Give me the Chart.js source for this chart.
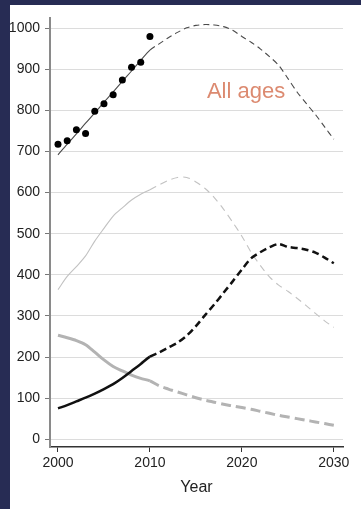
<!DOCTYPE html>
<html>
<head>
<meta charset="utf-8">
<script src="https://cdn.jsdelivr.net/npm/chart.js@4.4.1/dist/chart.umd.min.js"></script>
<style>
    html, body { margin: 0; padding: 0; background: #272c54; }
    body { width: 361px; height: 509px; position: relative; overflow: hidden; }
    #panel { position: absolute; left: 10px; top: 5px; width: 351px; height: 504px; background: #fff; }
</style>
</head>
<body>
<div id="panel"><canvas id="chart-mortality" width="351" height="504"></canvas></div>
<script>
const years = [];
for (let y = 2000; y <= 2030; y++) years.push(y);

const observedYears = [2000, 2001, 2002, 2003, 2004, 2005, 2006, 2007, 2008, 2009, 2010];
const observedAll = [718, 726, 753, 744, 798, 816, 838, 874, 905, 917, 980];

// fitted all-ages line, solid to 2010 then projected
const fitAll = [692, 718, 743, 769, 794, 820, 845, 871, 896, 922, 947,
    962, 977, 990, 1001, 1007, 1009, 1008, 1004, 995, 980,
    966, 950, 931, 910, 878, 845, 817, 790, 760, 730];

const lightThin = [364, 396, 420, 446, 482, 513, 543, 563, 582, 596, 607,
    619, 630, 637, 637, 626, 610, 588, 560, 528, 494,
    455, 423, 395, 375, 360, 343, 325, 306, 288, 272];

const blackThick = [75, 83, 92, 101, 111, 122, 134, 149, 166, 183, 201,
    211, 223, 235, 252, 275, 302, 328, 356, 384, 413,
    440, 455, 467, 475, 468, 465, 461, 454, 442, 428];

const grayThick = [253, 247, 240, 230, 212, 193, 177, 166, 156, 148, 142,
    130, 122, 115, 108, 101, 95, 90, 85, 81, 77,
    73, 68, 63, 58, 54, 50, 46, 42, 38, 34];

const yTicks = [0, 100, 200, 300, 400, 500, 600, 700, 800, 900, 1000];
const xTicks = [2000, 2010, 2020, 2030];

const label = { text: 'All ages', x: 2016.2, y: 846 };

function toPoints(xs, ys) {
    return ys.map((v, i) => ({ x: xs[i], y: v }));
}

function createLine(data, color, width, dash) {
    return {
        data: toPoints(years, data),
        borderColor: color,
        borderWidth: width,
        pointRadius: 0,
        tension: 0.3,
        fill: false,
        segment: {
            borderDash: ctx => ctx.p0.parsed.x >= 2010 ? dash : undefined,
        },
    };
}

const labelPlugin = {
    id: 'allAges',
    afterDatasetsDraw(chart) {
        const c = chart.ctx;
        c.save();
        c.font = '22px "Liberation Sans", Arial, sans-serif';
        c.fillStyle = '#dc8a70';
        c.textAlign = 'left';
        c.textBaseline = 'middle';
        c.fillText(label.text, chart.scales.x.getPixelForValue(label.x), chart.scales.y.getPixelForValue(label.y));
        c.restore();
    }
};

const font = { family: '"Liberation Sans", Arial, sans-serif', size: 14 };

new Chart(document.getElementById('chart-mortality'), {
    type: 'line',
    data: {
        datasets: [
            {
                data: toPoints(observedYears, observedAll),
                showLine: false,
                pointRadius: 3.5,
                pointBackgroundColor: '#000',
                pointBorderWidth: 0,
            },
            createLine(fitAll, '#4a4a4a', 1.1, [6, 4]),
            createLine(blackThick, '#111', 2.5, [7, 4]),
            createLine(grayThick, '#b3b3b3', 3, [10, 5]),
            createLine(lightThin, '#c2c2c2', 1.1, [7, 5]),
        ]
    },
    options: {
        responsive: false,
        animation: false,
        layout: { padding: { left: 0, right: 18, top: 8, bottom: 0 } },
        plugins: { legend: { display: false }, tooltip: { enabled: false } },
        scales: {
            x: {
                type: 'linear',
                min: 1999.13,
                max: 2031,
                afterBuildTicks: s => { s.ticks = xTicks.map(v => ({ value: v })); },
                afterFit: s => { s.height = 62; },
                grid: { drawOnChartArea: false, tickLength: 5, tickColor: '#333', lineWidth: 1 },
                border: { color: '#333', width: 1.5 },
                ticks: { font, color: '#222', padding: 3, maxRotation: 0, callback: v => String(v) },
                title: { display: true, text: 'Year', color: '#222', font: { family: font.family, size: 16 }, padding: { top: 0, bottom: 12 } },
            },
            y: {
                min: -19,
                max: 1024,
                afterBuildTicks: s => { s.ticks = yTicks.map(v => ({ value: v })); },
                afterFit: s => { s.width = 40; },
                grid: { color: '#dcdcdc', tickColor: '#777', tickLength: 5, lineWidth: 1 },
                border: { color: '#8a8a8a', width: 2 },
                ticks: { font, color: '#222', padding: 5, callback: v => String(v) },
            }
        }
    },
    plugins: [labelPlugin]
});
</script>
</body>
</html>
